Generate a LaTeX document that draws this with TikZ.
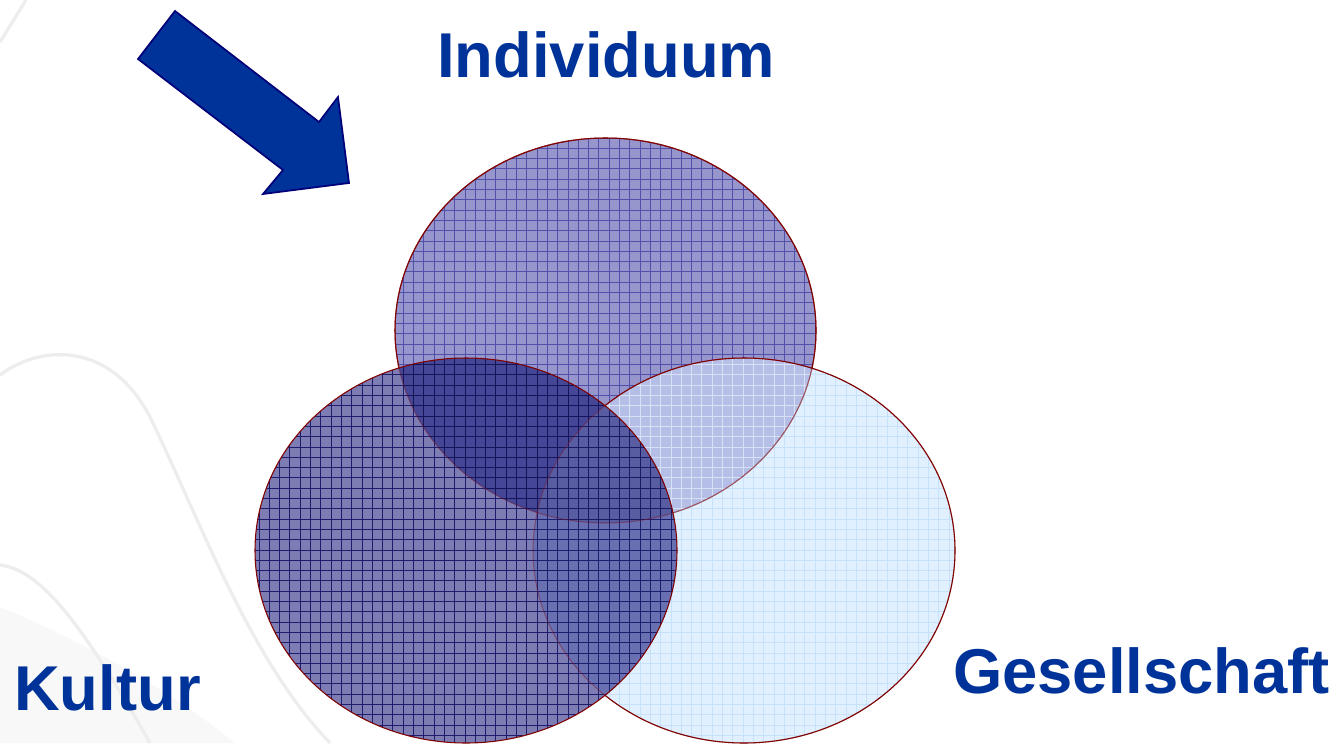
\documentclass[tikz,border=0pt]{standalone}
\usepackage{fontspec}
\setmainfont{Liberation Sans}
\definecolor{txtblue}{RGB}{0,51,153}
\definecolor{arrowfill}{RGB}{0,51,153}
\definecolor{arrowline}{RGB}{0,0,120}
\definecolor{rimred}{RGB}{128,0,0}
\definecolor{swoosh}{RGB}{237,237,237}
\definecolor{swooshfill}{RGB}{248,248,248}
\definecolor{cI}{RGB}{150,150,205}
\definecolor{gI}{RGB}{80,80,170}
\definecolor{cG}{RGB}{225,240,255}
\definecolor{gG}{RGB}{200,225,250}
\definecolor{cIG}{RGB}{180,190,230}
\definecolor{gIG}{RGB}{215,225,245}
\definecolor{cK}{RGB}{125,125,180}
\definecolor{gK}{RGB}{30,30,110}
\definecolor{cKI}{RGB}{70,70,150}
\definecolor{gKI}{RGB}{20,20,90}
\definecolor{cKG}{RGB}{105,112,178}
\definecolor{gKG}{RGB}{30,30,110}
\definecolor{cKIG}{RGB}{88,93,162}
\definecolor{gKIG}{RGB}{25,25,100}
\newcommand\clipI{\clip (605.5,330.5) ellipse [x radius=157.875pt, y radius=144.375pt];}
\newcommand\clipK{\clip (466,550.5) ellipse [x radius=158.25pt, y radius=144.375pt];}
\newcommand\clipG{\clip (744,550.5) ellipse [x radius=158.25pt, y radius=144.375pt];}
\newcommand\regionfill[2]{%
  \fill[#1] (240,120) rectangle (970,750);
  \draw[#2, line width=0.7pt]
    foreach \gx in {248.7,259.0,...,965} {(\gx,120) -- (\gx,750)}
    foreach \gy in {127.7,138.0,...,750} {(240,\gy) -- (970,\gy)};}
\tikzset{
  label/.style={font=\bfseries\fontsize{47.5pt}{50pt}\selectfont, text=txtblue, inner sep=0pt, anchor=base west},
  rim/.style={draw=rimred, line width=0.8pt},
  bgline/.style={draw=swoosh, line width=2.4pt}
}
\begin{document}
\begin{tikzpicture}[x=0.75pt,y=-0.75pt]
\useasboundingbox (0,0) rectangle (1337,743);
\fill[white] (0,0) rectangle (1337,743);
% faint background swooshes
\fill[swooshfill] (0,607) .. controls (80,640) and (170,690) .. (235,743) -- (0,743) -- cycle;
\path[bgline] (0,375) .. controls (40,345) and (110,340) .. (150,417)
  .. controls (200,520) and (250,660) .. (330,743);
\path[bgline] (0,565) .. controls (40,570) and (80,620) .. (150,743);
\path[bgline] (26,0) -- (0,42);
% Individuum
\begin{scope}\clipI \regionfill{cI}{gI}\end{scope}
\draw[rim] (605.5,330.5) ellipse [x radius=157.875pt, y radius=144.375pt];
% Gesellschaft
\begin{scope}\clipG \regionfill{cG}{gG}\end{scope}
\begin{scope}\clipG \clipI \regionfill{cIG}{gIG}\end{scope}
\draw[rim, opacity=0.4] (605.5,330.5) ellipse [x radius=157.875pt, y radius=144.375pt];
\draw[rim] (744,550.5) ellipse [x radius=158.25pt, y radius=144.375pt];
% Kultur
\begin{scope}\clipK \regionfill{cK}{gK}\end{scope}
\begin{scope}\clipK \clipI \regionfill{cKI}{gKI}\end{scope}
\begin{scope}\clipK \clipG \regionfill{cKG}{gKG}\end{scope}
\begin{scope}\clipK \clipG \clipI \regionfill{cKIG}{gKIG}\end{scope}
\draw[rim, opacity=0.35] (605.5,330.5) ellipse [x radius=157.875pt, y radius=144.375pt];
\draw[rim, opacity=0.35] (744,550.5) ellipse [x radius=158.25pt, y radius=144.375pt];
\draw[rim] (466,550.5) ellipse [x radius=158.25pt, y radius=144.375pt];
% arrow
\draw[fill=arrowfill, draw=arrowline, line width=1.3pt, line join=miter]
  (175,11) -- (138,59) -- (283,170) -- (263,194) -- (349,183) -- (338,97) -- (319,122) -- cycle;
% labels
\node[label] (indiv) at (437,77) {Individuum};
\node[label] (kultur) at (14,710) {Kultur};
\node[label] (gesell) at (953,693) {Gesellschaft};
\end{tikzpicture}
\end{document}
